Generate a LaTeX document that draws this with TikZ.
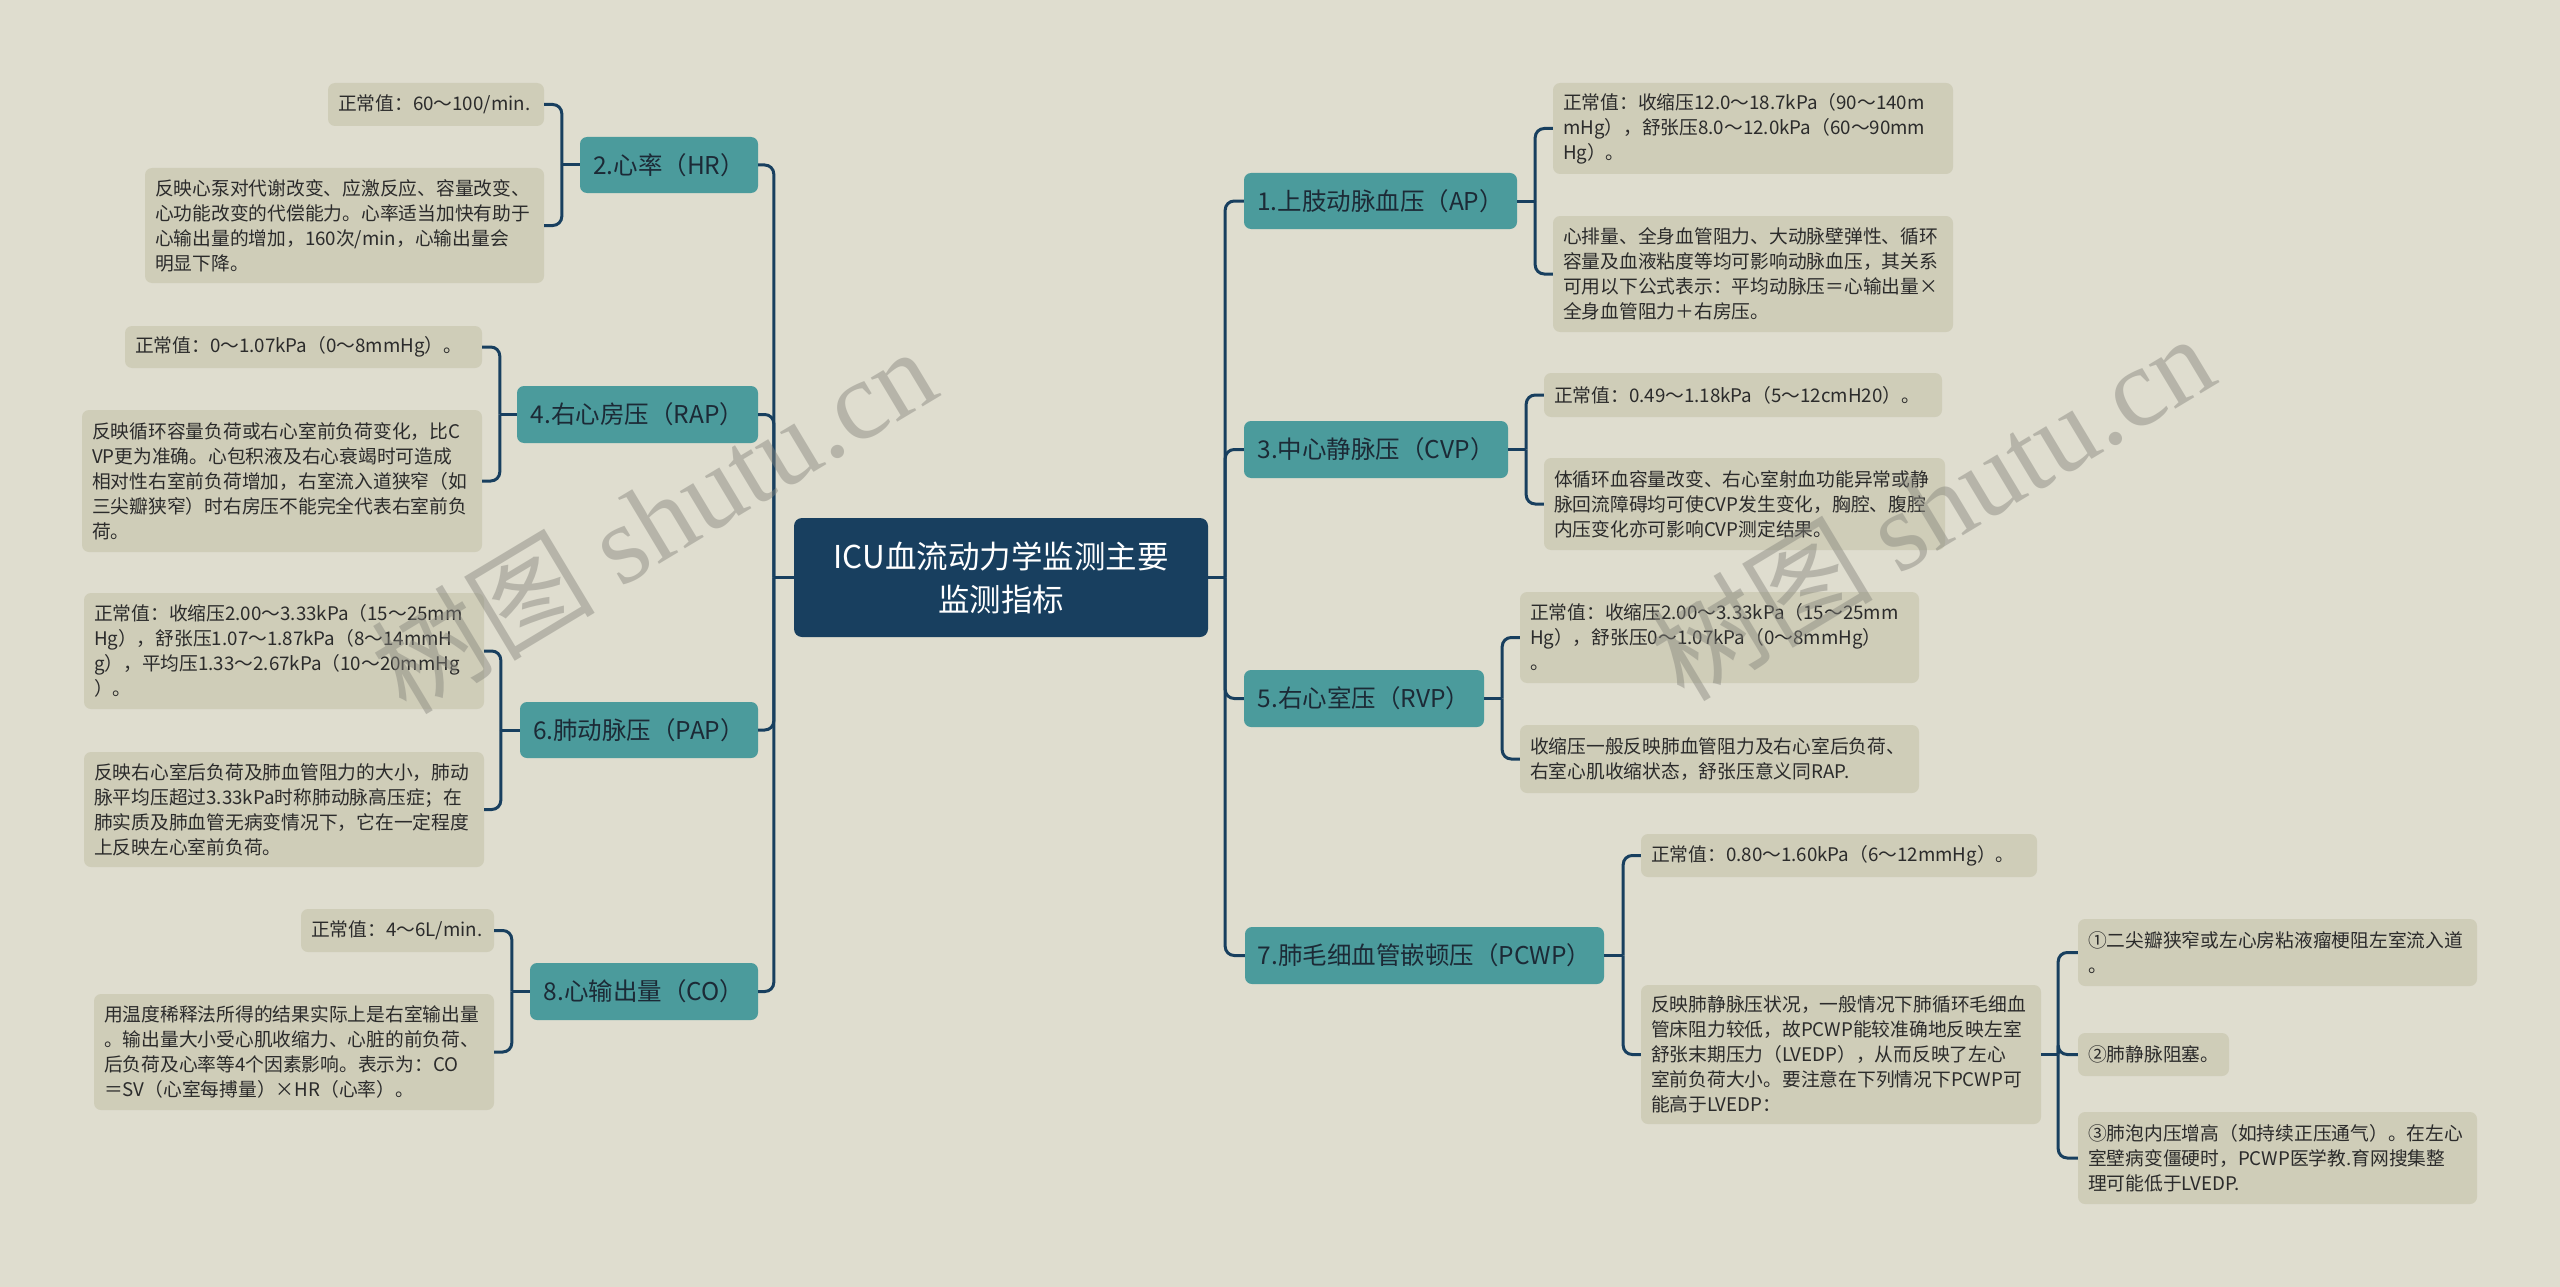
\documentclass[tikz,border=0pt]{standalone}
\usepackage{fontspec}
\setmainfont{Noto Sans CJK SC}
\newfontfamily\wmserif{Liberation Serif}
\usetikzlibrary{calc}
\definecolor{bgc}{HTML}{DFDDCF}
\definecolor{leafc}{HTML}{CFCDB8}
\definecolor{tealc}{HTML}{4B9B9C}
\definecolor{navyc}{HTML}{183F5F}
\definecolor{txtc}{HTML}{2B2B2B}
\definecolor{ltxtc}{HTML}{1C2A36}
\definecolor{wmc}{HTML}{85847C}
\tikzset{
 leafbox/.style={fill=leafc, rounded corners=7pt, text=txtc, font=\fontsize{18.75}{25}\selectfont, align=left, inner xsep=10pt, inner ysep=0pt},
 lvlbox/.style={fill=tealc, rounded corners=7pt, text=ltxtc, font=\fontsize{24.5}{30}\selectfont, inner sep=0pt, align=center},
 rootbox/.style={fill=navyc, rounded corners=8pt, text=white, font=\fontsize{31.5}{43}\selectfont, align=center, inner sep=0pt},
 conn/.style={draw=navyc, line width=3pt, rounded corners=9pt},
 wmark/.style={rotate=31, text=wmc, opacity=0.45, font=\fontsize{112}{112}\selectfont, inner sep=0pt},
}
\newcommand\leafnode[6]{%
 \pgfmathsetmacro\lw{#4-#2}\pgfmathsetmacro\lh{#5-#3}\pgfmathsetmacro\tw{#4-#2-20}%
 \node[leafbox, minimum width=\lw pt, minimum height=\lh pt, text width=\tw pt] (#1) at ({(#2+#4)/2},{(#3+#5)/2}) {#6};}
\newcommand\lvlnode[6]{%
 \pgfmathsetmacro\lw{#4-#2}\pgfmathsetmacro\lh{#5-#3}%
 \node[lvlbox, minimum width=\lw pt, minimum height=\lh pt] (#1) at ({(#2+#4)/2},{(#3+#5)/2}) {#6};}
\begin{document}
\begin{tikzpicture}[x=1pt,y=-1pt]
\fill[bgc] (0,0) rectangle (2560,1287);
\useasboundingbox (0,0) rectangle (2560,1287);

% root
\node[rootbox, minimum width=414pt, minimum height=119pt] (root) at (1001,577.5) {ICU血流动力学监测主要\\监测指标};

% left level-1
\lvlnode{hr}{580}{137}{758}{193}{2.心率（HR）}
\lvlnode{rap}{517}{386}{758}{443}{4.右心房压（RAP）}
\lvlnode{pap}{520}{702}{758}{758}{6.肺动脉压（PAP）}
\lvlnode{co}{530}{963}{758}{1020}{8.心输出量（CO）}
% right level-1
\lvlnode{ap}{1244}{173}{1517}{229}{1.上肢动脉血压（AP）}
\lvlnode{cvp}{1244}{421}{1508}{478}{3.中心静脉压（CVP）}
\lvlnode{rvp}{1244}{670}{1484}{727}{5.右心室压（RVP）}
\lvlnode{pcwp}{1245}{927}{1604}{984}{7.肺毛细血管嵌顿压（PCWP）}

% left leaves
\leafnode{a1}{328}{83}{544}{126}{正常值：60～100/min.}
\leafnode{a2}{145}{168}{544}{283}{反映心泵对代谢改变、应激反应、容量改变、\\心功能改变的代偿能力。心率适当加快有助于\\心输出量的增加，160次/min，心输出量会\\明显下降。}
\leafnode{b1}{125}{326}{482}{368}{正常值：0～1.07kPa（0～8mmHg）。}
\leafnode{b2}{82}{410}{482}{552}{反映循环容量负荷或右心室前负荷变化，比C\\VP更为准确。心包积液及右心衰竭时可造成\\相对性右室前负荷增加，右室流入道狭窄（如\\三尖瓣狭窄）时右房压不能完全代表右室前负\\荷。}
\leafnode{c1}{84}{593}{484}{709}{正常值：收缩压2.00～3.33kPa（15～25mm\\Hg），舒张压1.07～1.87kPa（8～14mmH\\g），平均压1.33～2.67kPa（10～20mmHg\\）。}
\leafnode{c2}{84}{752}{484}{867}{反映右心室后负荷及肺血管阻力的大小，肺动\\脉平均压超过3.33kPa时称肺动脉高压症；在\\肺实质及肺血管无病变情况下，它在一定程度\\上反映左心室前负荷。}
\leafnode{d1}{301}{909}{494}{952}{正常值：4～6L/min.}
\leafnode{d2}{94}{994}{494}{1110}{用温度稀释法所得的结果实际上是右室输出量\\。输出量大小受心肌收缩力、心脏的前负荷、\\后负荷及心率等4个因素影响。表示为：CO\\＝SV（心室每搏量）×HR（心率）。}

% right leaves
\leafnode{e1}{1553}{83}{1953}{174}{正常值：收缩压12.0～18.7kPa（90～140m\\mHg），舒张压8.0～12.0kPa（60～90mm\\Hg）。}
\leafnode{e2}{1553}{216}{1953}{332}{心排量、全身血管阻力、大动脉壁弹性、循环\\容量及血液粘度等均可影响动脉血压，其关系\\可用以下公式表示：平均动脉压＝心输出量×\\全身血管阻力＋右房压。}
\leafnode{f1}{1544}{373}{1942}{417}{正常值：0.49～1.18kPa（5～12cmH20）。}
\leafnode{f2}{1544}{458}{1945}{550}{体循环血容量改变、右心室射血功能异常或静\\脉回流障碍均可使CVP发生变化，胸腔、腹腔\\内压变化亦可影响CVP测定结果。}
\leafnode{g1}{1520}{592}{1919}{683}{正常值：收缩压2.00～3.33kPa（15～25mm\\Hg），舒张压0～1.07kPa（0～8mmHg）\\。}
\leafnode{g2}{1520}{725}{1919}{793}{收缩压一般反映肺血管阻力及右心室后负荷、\\右室心肌收缩状态，舒张压意义同RAP.}
\leafnode{h1}{1641}{834}{2037}{877}{正常值：0.80～1.60kPa（6～12mmHg）。}
\leafnode{h2}{1641}{985}{2041}{1124}{反映肺静脉压状况，一般情况下肺循环毛细血\\管床阻力较低，故PCWP能较准确地反映左室\\舒张末期压力（LVEDP），从而反映了左心\\室前负荷大小。要注意在下列情况下PCWP可\\能高于LVEDP：}
\leafnode{i1}{2078}{919}{2477}{986}{①二尖瓣狭窄或左心房粘液瘤梗阻左室流入道\\。}
\leafnode{i2}{2078}{1033}{2229}{1076}{②肺静脉阻塞。}
\leafnode{i3}{2078}{1112}{2477}{1204}{③肺泡内压增高（如持续正压通气）。在左心\\室壁病变僵硬时，PCWP医学教.育网搜集整\\理可能低于LVEDP.}

% trunks
\coordinate (lt) at ($(root.west)+(-20,0)$);
\coordinate (rt) at ($(root.east)+(17,0)$);
\draw[conn] (root.west) -- (lt);
\draw[conn] (root.east) -- (rt);
\foreach \n in {hr,rap,pap,co} \draw[conn] (lt) |- (\n.east);
\foreach \n in {ap,cvp,rvp,pcwp} \draw[conn] (rt) |- (\n.west);

% left brackets
\coordinate (hrj) at ($(hr.west)+(-18,0)$);
\draw[conn] (hr.west) -- (hrj);
\draw[conn] (hrj) |- (a1.east); \draw[conn] (hrj) |- (a2.east);
\coordinate (rapj) at ($(rap.west)+(-17,0)$);
\draw[conn] (rap.west) -- (rapj);
\draw[conn] (rapj) |- (b1.east); \draw[conn] (rapj) |- (b2.east);
\coordinate (papj) at ($(pap.west)+(-19,0)$);
\draw[conn] (pap.west) -- (papj);
\draw[conn] (papj) |- (c1.east); \draw[conn] (papj) |- (c2.east);
\coordinate (coj) at ($(co.west)+(-18,0)$);
\draw[conn] (co.west) -- (coj);
\draw[conn] (coj) |- (d1.east); \draw[conn] (coj) |- (d2.east);

% right brackets
\coordinate (apj) at ($(ap.east)+(18,0)$);
\draw[conn] (ap.east) -- (apj);
\draw[conn] (apj) |- (e1.west); \draw[conn] (apj) |- (e2.west);
\coordinate (cvpj) at ($(cvp.east)+(18,0)$);
\draw[conn] (cvp.east) -- (cvpj);
\draw[conn] (cvpj) |- (f1.west); \draw[conn] (cvpj) |- (f2.west);
\coordinate (rvpj) at ($(rvp.east)+(18,0)$);
\draw[conn] (rvp.east) -- (rvpj);
\draw[conn] (rvpj) |- (g1.west); \draw[conn] (rvpj) |- (g2.west);
\coordinate (pcwpj) at ($(pcwp.east)+(19,0)$);
\draw[conn] (pcwp.east) -- (pcwpj);
\draw[conn] (pcwpj) |- (h1.west); \draw[conn] (pcwpj) |- (h2.west);
\coordinate (h2j) at ($(h2.east)+(17,0)$);
\draw[conn] (h2.east) -- (h2j);
\draw[conn] (h2j) |- (i1.west); \draw[conn] (h2j) |- (i2.west); \draw[conn] (h2j) |- (i3.west);

% watermarks
\node[wmark] (wm1) at (653,519) {树图 {\wmserif shutu.cn}};
\node[wmark] (wm2) at (1931,506) {树图 {\wmserif shutu.cn}};
\end{tikzpicture}
\end{document}
